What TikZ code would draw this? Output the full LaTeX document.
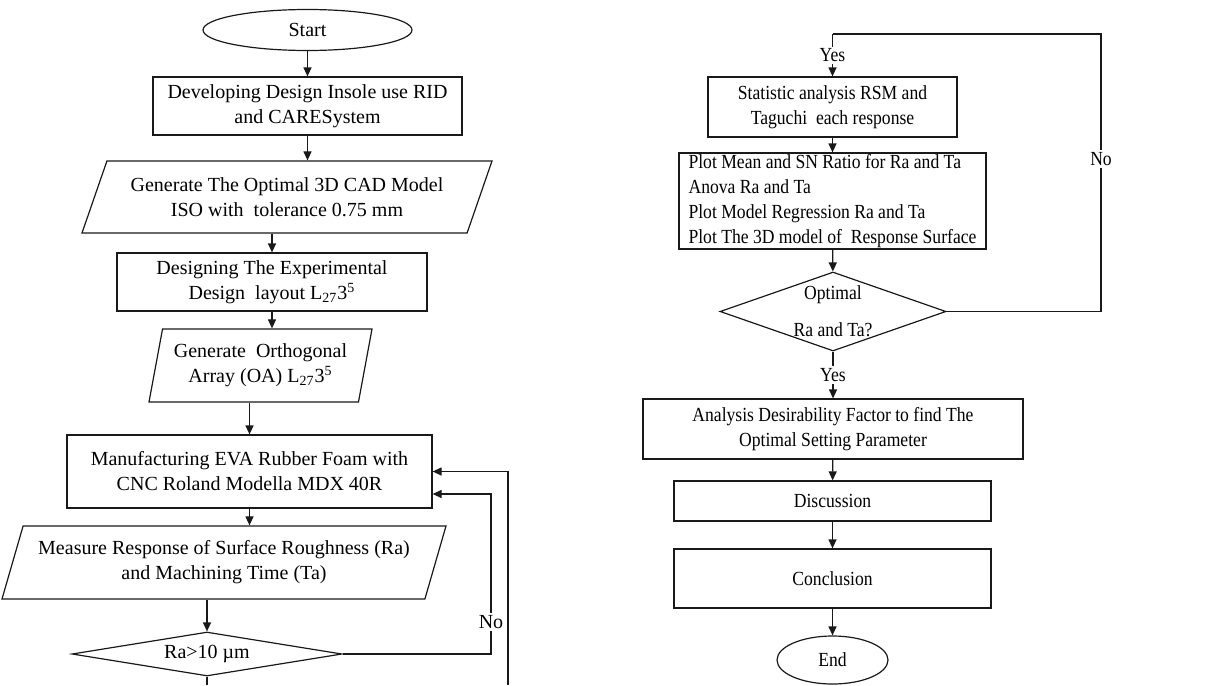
\documentclass[tikz,border=0pt]{standalone}
\usepackage{fontspec}
\setmainfont{Liberation Serif}
\newfontfamily\narrowserif[FakeStretch=0.88]{Liberation Serif}
\usetikzlibrary{arrows.meta,shapes.geometric}
\definecolor{boxline}{gray}{0.1}
\tikzset{flowline/.style={draw=boxline,line width=0.6pt},
         flowarrow/.style={flowline,-{Triangle[length=4.5pt,width=4pt]}},
         procbox/.style={rectangle,draw=boxline,line width=0.6pt,align=center,inner sep=1pt},
         iobox/.style={trapezium,draw=boxline,line width=0.6pt,align=center,inner sep=1pt,
                       trapezium stretches body},
         decision/.style={diamond,draw=boxline,line width=0.6pt,inner sep=0pt},
         terminal/.style={ellipse,draw=boxline,line width=0.6pt,inner sep=0pt},
         branchlabel/.style={fill=white,inner sep=1pt}}

\begin{document}
\begin{tikzpicture}[x=0.5pt,y=-0.5pt,font=\fontsize{10}{12.5}\selectfont]
  \useasboundingbox (0,0) rectangle (1220,685);
  % left column
  \node[terminal,minimum width=104.5pt,minimum height=20.5pt] (start) at (307.5,30) {Start};
  \node[procbox,minimum width=154.5pt,minimum height=29pt] (develop) at (307.5,106)
    {Developing Design Insole use RID\\and CARESystem};
  \node[iobox,minimum width=205pt,minimum height=36pt,
        trapezium left angle=60,trapezium right angle=120] (cadmodel) at (287,197)
    {Generate The Optimal 3D CAD Model\\ISO with\ \ tolerance 0.75 mm};
  \node[procbox,minimum width=155pt,minimum height=29pt] (layout) at (272,282)
    {Designing The Experimental\\Design\ \ layout L\textsubscript{27}3\textsuperscript{5}};
  \node[iobox,minimum width=111.5pt,minimum height=36.5pt,
        trapezium left angle=74,trapezium right angle=106] (orthoarray) at (260.5,365.5)
    {Generate\ \ Orthogonal\\Array (OA) L\textsubscript{27}3\textsuperscript{5}};
  \node[procbox,minimum width=182.5pt,minimum height=36.5pt] (manuf) at (249.5,471.5)
    {Manufacturing EVA Rubber Foam with\\CNC Roland Modella MDX 40R};
  \node[iobox,minimum width=222pt,minimum height=36.5pt,
        trapezium left angle=66,trapezium right angle=114] (measure) at (224,562.5)
    {Measure Response of Surface Roughness (Ra)\\and Machining Time (Ta)};
  \node[decision,minimum width=135pt,minimum height=22pt,
        label={center:Ra>10 µm}] (rough) at (207,654) {};
  \coordinate (noleft) at (491,494);
  \coordinate (backin) at (508,685);
  \coordinate (contdown) at (207,685);

  % right column
  \begin{scope}[font=\narrowserif\fontsize{10}{12.5}\selectfont]
  \node[procbox,minimum width=124.5pt,minimum height=30pt] (stat) at (832.5,107)
    {Statistic analysis RSM and\\Taguchi\ \ each response};
  \node[procbox,minimum width=153.5pt,minimum height=48pt,
        align=left,inner xsep=3.5pt,inner ysep=0.5pt] (plots) at (832.5,201)
    {Plot Mean and SN Ratio for Ra and Ta\\Anova Ra and Ta\\Plot Model Regression Ra and Ta\\
     Plot The 3D model of\ \ Response Surface};
  \node[decision,minimum width=113pt,minimum height=39.5pt,
        label={[align=center]center:Optimal\\[6pt]Ra and Ta?}] (optimal) at (833,311.5) {};
  \node[procbox,minimum width=190pt,minimum height=30pt] (desir) at (833,429)
    {Analysis Desirability Factor to find The\\Optimal Setting Parameter};
  \node[procbox,minimum width=158.5pt,minimum height=20pt] (discuss) at (832.5,501) {Discussion};
  \node[procbox,minimum width=158.5pt,minimum height=29.5pt] (conclude) at (832.5,578.5) {Conclusion};
  \node[terminal,minimum width=55.5pt,minimum height=24pt] (finish) at (832.5,660) {End};
  \coordinate (topright) at (1101,34);

  % connectors, right
  \draw[flowline] (optimal.east) -- (optimal.east -| topright)
    -- node[branchlabel,pos=0.55] {No} (topright) -- (topright -| stat.north);
  \draw[flowarrow] (topright -| stat.north) -- node[branchlabel] {Yes} (stat.north);
  \draw[flowarrow] (stat) -- (plots);
  \draw[flowarrow] (plots) -- (optimal);
  \draw[flowarrow] (optimal.south) -- node[branchlabel] {Yes} (desir.north);
  \draw[flowarrow] (desir) -- (discuss);
  \draw[flowarrow] (discuss) -- (conclude);
  \draw[flowarrow] (conclude) -- (finish);
  \end{scope}

  % connectors, left
  \draw[flowarrow] (start) -- (develop);
  \draw[flowarrow] (develop.south) -- (develop.south |- cadmodel.north);
  \draw[flowarrow] (layout.north |- cadmodel.south) -- (layout.north);
  \draw[flowarrow] (layout.south) -- (layout.south |- orthoarray.north);
  \draw[flowarrow] (manuf.north |- orthoarray.south) -- (manuf.north);
  \draw[flowarrow] (manuf.south) -- (manuf.south |- measure.north);
  \draw[flowarrow] (rough.north |- measure.south) -- (rough.north);
  \draw[flowline] (rough.south) -- (contdown);
  \draw[flowarrow] (rough.east) -- (rough.east -| noleft)
    -- node[branchlabel,pos=0.2] {No} (noleft) -- (noleft -| manuf.east);
  \draw[flowarrow] (backin) |- (manuf.east);
\end{tikzpicture}
\end{document}
